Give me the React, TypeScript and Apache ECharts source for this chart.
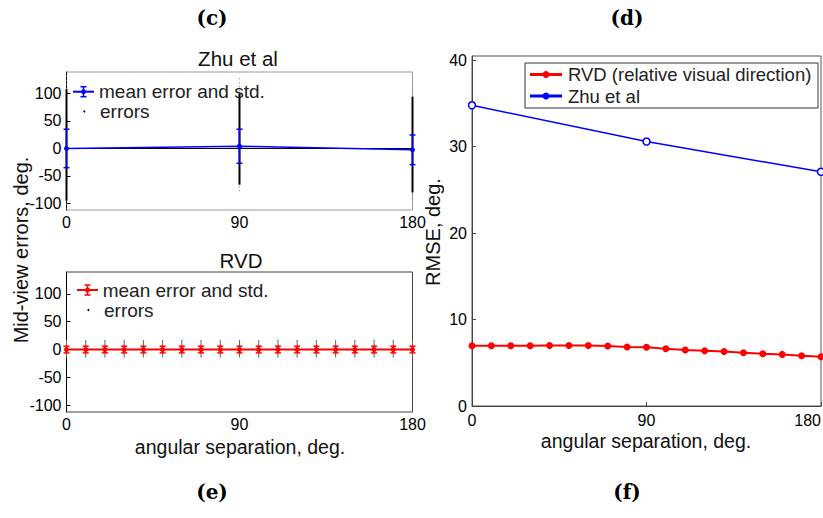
import React, { useEffect, useRef } from "react";
import * as echarts from "echarts";

// ---- Data ----
const zhuAngles = [0, 90, 180];
const zhuMean = [0, 4, -2.5];
const zhuStd = [35, 31, 27];
const zhuErrDenseLow = [-95, -66, -80];
const zhuErrDenseHigh = [108, 100, 94];
const zhuErrSparseLow = [-110, -78, -92];
const zhuErrSparseHigh = [138, 128, 106];

const rvdAngles = [0, 10, 20, 30, 40, 50, 60, 70, 80, 90, 100, 110, 120, 130, 140, 150, 160, 170, 180];
const rvdMean = [0, 0, 0, 0, 0, 0, 0, 0, 0, 0, 0, 0, 0, 0, 0, 0, 0, 0, 0];
const rvdStd = [6, 6, 6, 6, 6, 6, 6, 6, 6, 6, 6, 6, 6, 6, 6, 6, 6, 6, 6];
const rvdErrLow = [-14, -14, -14, -14, -14, -14, -14, -14, -14, -14, -14, -14, -14, -14, -14, -14, -14, -14, -14];
const rvdErrHigh = [17, 17, 17, 17, 17, 17, 17, 17, 17, 17, 17, 17, 17, 17, 17, 17, 17, 17, 17];

const rmseRvdAngles = [0, 10, 20, 30, 40, 50, 60, 70, 80, 90, 100, 110, 120, 130, 140, 150, 160, 170, 180];
const rmseRvd = [6.98, 6.98, 6.98, 6.98, 7.01, 7.01, 7.01, 6.94, 6.83, 6.79, 6.63, 6.48, 6.4, 6.31, 6.16, 6.05, 5.97, 5.81, 5.7];
const rmseZhuAngles = [0, 90, 180];
const rmseZhu = [34.8, 30.6, 27.1];

const errTicks = [-100, -50, 0, 50, 100];
const rmseTicks = [0, 10, 20, 30, 40];

const FONT = "Liberation Sans";

function errorsRender(color: string, width: number, sparseColor: string) {
  return (params: any, api: any) => {
    const x = api.value(0);
    const dLo = api.coord([x, api.value(1)]);
    const dHi = api.coord([x, api.value(2)]);
    const sLo = api.coord([x, api.value(3)]);
    const sHi = api.coord([x, api.value(4)]);
    return {
      type: "group",
      children: [
        {
          type: "line",
          shape: { x1: sLo[0], y1: sLo[1], x2: sHi[0], y2: sHi[1] },
          style: { stroke: sparseColor, lineWidth: 1, lineDash: [1, 3] },
        },
        {
          type: "line",
          shape: { x1: dLo[0], y1: dLo[1], x2: dHi[0], y2: dHi[1] },
          style: { stroke: color, lineWidth: width },
        },
      ],
    };
  };
}

function stdRender(color: string, width: number) {
  return (params: any, api: any) => {
    const x = api.value(0);
    const m = api.value(1);
    const s = api.value(2);
    const hi = api.coord([x, m + s]);
    const lo = api.coord([x, m - s]);
    const c = 3;
    return {
      type: "group",
      children: [
        { type: "line", shape: { x1: hi[0], y1: hi[1], x2: lo[0], y2: lo[1] }, style: { stroke: color, lineWidth: width } },
        { type: "line", shape: { x1: hi[0] - c, y1: hi[1], x2: hi[0] + c, y2: hi[1] }, style: { stroke: color, lineWidth: width } },
        { type: "line", shape: { x1: lo[0] - c, y1: lo[1], x2: lo[0] + c, y2: lo[1] }, style: { stroke: color, lineWidth: width } },
      ],
    };
  };
}

function xAxisCfg(gridIndex: number, margin: number, color: string, alignMax?: string) {
  const label: any = { color: "#000", fontSize: 16, fontFamily: FONT, margin };
  if (alignMax) label.alignMaxLabel = alignMax;
  return {
    type: "value",
    gridIndex,
    min: 0,
    max: 180,
    interval: 90,
    axisLine: { show: true, lineStyle: { color, width: 1 } },
    axisTick: { show: true, inside: true, length: 4, lineStyle: { color } },
    splitLine: { show: false },
    axisLabel: label,
  };
}

function yAxisCfg(gridIndex: number, min: number, max: number, ticks: number[], color: string) {
  return {
    type: "value",
    gridIndex,
    min,
    max,
    axisLine: { show: true, lineStyle: { color, width: 1 } },
    axisTick: { show: true, inside: true, length: 4, lineStyle: { color }, customValues: ticks },
    splitLine: { show: false },
    axisLabel: { color: "#000", fontSize: 16, fontFamily: FONT, margin: 5, customValues: ticks },
  };
}

function txt(text: string, x: number, y: number, size: number, opts: any = {}) {
  return {
    type: "text",
    x,
    y,
    rotation: opts.rotation || 0,
    z: 100,
    style: {
      text,
      fill: opts.fill || "#000",
      fontSize: size,
      fontFamily: opts.family || FONT,
      fontWeight: opts.weight || "normal",
      textAlign: opts.align || "center",
      textVerticalAlign: "middle",
    },
  };
}

function errLegend(color: string, x0: number, x1: number, y: number, tx: number, dotX: number, y2: number, tx2: number) {
  const cx = (x0 + x1) / 2;
  return [
    { type: "line", z: 100, shape: { x1: x0, y1: y, x2: x1, y2: y }, style: { stroke: color, lineWidth: 2 } },
    { type: "line", z: 100, shape: { x1: cx, y1: y - 5, x2: cx, y2: y + 5 }, style: { stroke: color, lineWidth: 1.5 } },
    { type: "line", z: 100, shape: { x1: cx - 3, y1: y - 5, x2: cx + 3, y2: y - 5 }, style: { stroke: color, lineWidth: 1.5 } },
    { type: "line", z: 100, shape: { x1: cx - 3, y1: y + 5, x2: cx + 3, y2: y + 5 }, style: { stroke: color, lineWidth: 1.5 } },
    { type: "circle", z: 100, shape: { cx, cy: y, r: 2.5 }, style: { fill: color } },
    txt("mean error and std.", tx, y, 19, { align: "left", fill: "#222" }),
    { type: "circle", z: 100, shape: { cx: dotX, cy: y2, r: 1 }, style: { fill: "#000" } },
    txt("errors", tx2, y2, 19, { align: "left", fill: "#222" }),
  ];
}

export default function App() {
  const ref = useRef<HTMLDivElement>(null);

  useEffect(() => {
    if (!ref.current) return;
    const chart = echarts.init(ref.current, undefined, { renderer: "svg" });

    const gridCommon = { show: true, borderWidth: 1, containLabel: false, outerBoundsMode: "none" };

    const option: any = {
      animation: false,
      backgroundColor: "#fff",
      grid: [
        { ...gridCommon, left: 66.5, top: 72, width: 346, height: 138, borderColor: "#999" },
        { ...gridCommon, left: 66.5, top: 272, width: 346, height: 140, borderColor: "#444" },
        { ...gridCommon, left: 472, top: 56, width: 349, height: 350, borderColor: "#555" },
      ],
      xAxis: [xAxisCfg(0, 4, "#000"), xAxisCfg(1, 4, "#000"), xAxisCfg(2, 6, "#444", "right")],
      yAxis: [
        yAxisCfg(0, -112, 139, errTicks, "#000"),
        yAxisCfg(1, -112, 139, errTicks, "#000"),
        yAxisCfg(2, 0, 40.5, rmseTicks, "#444"),
      ],
      series: [
        {
          type: "custom",
          name: "zhu errors",
          xAxisIndex: 0,
          yAxisIndex: 0,
          z: 1,
          renderItem: errorsRender("#000", 2, "#777"),
          encode: { x: 0, y: [1, 2] },
          data: zhuAngles.map((a, i) => [a, zhuErrDenseLow[i], zhuErrDenseHigh[i], zhuErrSparseLow[i], zhuErrSparseHigh[i]]),
        },
        {
          type: "line",
          name: "zhu mean",
          xAxisIndex: 0,
          yAxisIndex: 0,
          z: 3,
          symbol: "circle",
          symbolSize: 5,
          lineStyle: { color: "#0000ff", width: 1.5 },
          itemStyle: { color: "#0000ff" },
          data: zhuAngles.map((a, i) => [a, zhuMean[i]]),
        },
        {
          type: "custom",
          name: "zhu std",
          xAxisIndex: 0,
          yAxisIndex: 0,
          z: 4,
          renderItem: stdRender("#0000ff", 1.5),
          encode: { x: 0, y: 1 },
          data: zhuAngles.map((a, i) => [a, zhuMean[i], zhuStd[i]]),
        },
        {
          type: "custom",
          name: "rvd errors",
          xAxisIndex: 1,
          yAxisIndex: 1,
          z: 1,
          renderItem: errorsRender("#666", 1, "#999"),
          encode: { x: 0, y: [1, 2] },
          data: rvdAngles.map((a, i) => [a, rvdErrLow[i], rvdErrHigh[i], rvdErrLow[i], rvdErrHigh[i]]),
        },
        {
          type: "line",
          name: "rvd mean",
          xAxisIndex: 1,
          yAxisIndex: 1,
          z: 3,
          symbol: "circle",
          symbolSize: 5,
          lineStyle: { color: "#ff0000", width: 2 },
          itemStyle: { color: "#ff0000" },
          data: rvdAngles.map((a, i) => [a, rvdMean[i]]),
        },
        {
          type: "custom",
          name: "rvd std",
          xAxisIndex: 1,
          yAxisIndex: 1,
          z: 4,
          renderItem: stdRender("#ff0000", 1.5),
          encode: { x: 0, y: 1 },
          data: rvdAngles.map((a, i) => [a, rvdMean[i], rvdStd[i]]),
        },
        {
          type: "line",
          name: "RVD (relative visual direction)",
          xAxisIndex: 2,
          yAxisIndex: 2,
          symbol: "circle",
          symbolSize: 7,
          lineStyle: { color: "#ff0000", width: 2 },
          itemStyle: { color: "#ff0000" },
          data: rmseRvdAngles.map((a, i) => [a, rmseRvd[i]]),
        },
        {
          type: "line",
          name: "Zhu et al",
          xAxisIndex: 2,
          yAxisIndex: 2,
          symbol: "circle",
          symbolSize: 7,
          lineStyle: { color: "#0000ff", width: 1.5 },
          itemStyle: { color: "#fff", borderColor: "#0000ff", borderWidth: 1.5 },
          data: rmseZhuAngles.map((a, i) => [a, rmseZhu[i]]),
        },
      ],
      graphic: [
        txt("(c)", 212, 18, 20, { family: "DejaVu Serif", weight: "bold" }),
        txt("(d)", 627, 18, 20, { family: "DejaVu Serif", weight: "bold" }),
        txt("(e)", 212, 492, 20, { family: "DejaVu Serif", weight: "bold" }),
        txt("(f)", 627, 492, 20, { family: "DejaVu Serif", weight: "bold" }),
        txt("Zhu et al", 238, 58, 20.5, { fill: "#111" }),
        txt("RVD", 241, 260, 20.5, { fill: "#111" }),
        txt("Mid-view errors, deg.", 21, 250, 20, { rotation: Math.PI / 2, fill: "#111" }),
        txt("RMSE, deg.", 433, 232, 20, { rotation: Math.PI / 2, fill: "#111" }),
        txt("angular separation, deg.", 240, 447, 19.5, { fill: "#111" }),
        txt("angular separation, deg.", 646, 441, 19.5, { fill: "#111" }),
        ...errLegend("#0000ff", 73, 94, 91.7, 99, 84.3, 111.5, 100),
        ...errLegend("#ff0000", 77, 98, 290, 102.7, 88.3, 310, 104),
        {
          type: "rect",
          z: 99,
          shape: { x: 525, y: 63, width: 293, height: 45 },
          style: { fill: "#fff", stroke: "#333", lineWidth: 1 },
        },
        { type: "line", z: 100, shape: { x1: 530, y1: 74.5, x2: 562, y2: 74.5 }, style: { stroke: "#ff0000", lineWidth: 3 } },
        { type: "circle", z: 100, shape: { cx: 546, cy: 74.5, r: 3.5 }, style: { fill: "#ff0000" } },
        txt("RVD (relative visual direction)", 568, 74.5, 18.5, { align: "left", fill: "#222" }),
        { type: "line", z: 100, shape: { x1: 530, y1: 96, x2: 562, y2: 96 }, style: { stroke: "#0000ff", lineWidth: 3 } },
        { type: "circle", z: 100, shape: { cx: 546, cy: 96, r: 3.5 }, style: { fill: "#0000ff" } },
        txt("Zhu et al", 568, 96, 18.5, { align: "left", fill: "#222" }),
      ],
    };

    chart.setOption(option);
    return () => chart.dispose();
  }, []);

  return (
    <div
      ref={ref}
      style={{ position: "absolute", left: 0, top: 0, width: 823, height: 518, background: "#fff" }}
    />
  );
}
